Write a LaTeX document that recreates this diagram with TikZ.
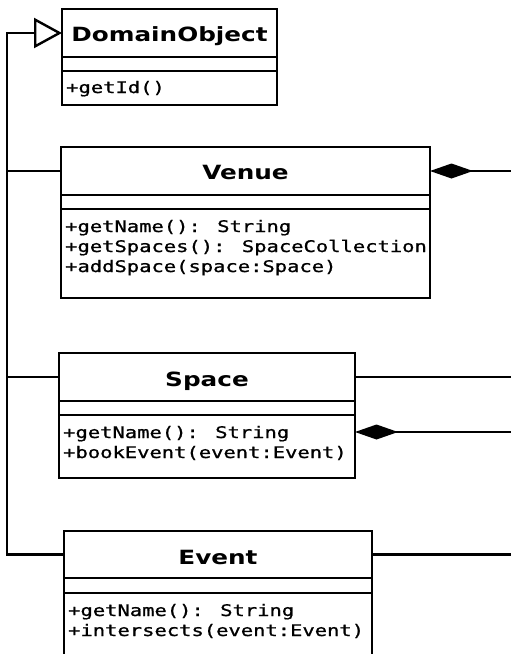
\documentclass[tikz,border=0pt]{standalone}
\usepackage{fontspec}
\newfontfamily\ttlfont{DejaVu Sans}[FakeStretch=1.26]
\newfontfamily\mthfont{DejaVu Sans Mono}[FakeStretch=1.28, FakeBold=1]
\usetikzlibrary{arrows.meta,calc}
\begin{document}
\begin{tikzpicture}[x=1pt,y=-1pt,
  part/.style={draw, line width=2.8pt, rectangle, inner sep=0pt, outer sep=0pt, anchor=north west},
  title/.style={anchor=base, inner sep=0pt, font=\ttlfont\bfseries\fontsize{19.6}{24}\selectfont},
  meth/.style={anchor=base west, inner sep=0pt, font=\mthfont\fontsize{16}{20}\selectfont},
  link/.style={line width=2.4pt},
  gen/.style={link, line join=miter, -{Triangle[open, length=28pt, width=30pt]}},
  comp/.style={link, -{Diamond[length=43pt, width=15pt]}},
]
\path[use as bounding box, fill=white] (0,0) rectangle (511,654);
\clip (0,0) rectangle (511,654);

% DomainObject
\node[part, minimum width=215, minimum height=48] (dobjH) at (62,9) {};
\node[part, minimum width=215, minimum height=14] (dobjA) at (62,57) {};
\node[part, minimum width=215, minimum height=34] (dobjM) at (62,71) {};
\node[title] (dobjT) at (169.5,41) {DomainObject};
\node[meth] (dobjM1) at (66,93) {+getId()};

% Venue
\node[part, minimum width=369, minimum height=48] (venueH) at (61,147) {};
\node[part, minimum width=369, minimum height=14] (venueA) at (61,195) {};
\node[part, minimum width=369, minimum height=89] (venueM) at (61,209) {};
\node[title] (venueT) at (245.5,179) {Venue};
\node[meth] (venueM1) at (65,232) {+getName(): String};
\node[meth] (venueM2) at (65,252) {+getSpaces(): SpaceCollection};
\node[meth] (venueM3) at (65,272) {+addSpace(space:Space)};

% Space
\node[part, minimum width=296, minimum height=48] (spaceH) at (59,353) {};
\node[part, minimum width=296, minimum height=14] (spaceA) at (59,401) {};
\node[part, minimum width=296, minimum height=63] (spaceM) at (59,415) {};
\node[title] (spaceT) at (207,386) {Space};
\node[meth] (spaceM1) at (63,438) {+getName(): String};
\node[meth] (spaceM2) at (63,458) {+bookEvent(event:Event)};

% Event
\node[part, minimum width=308, minimum height=47] (eventH) at (64,531) {};
\node[part, minimum width=308, minimum height=15] (eventA) at (64,578) {};
\node[part, minimum width=308, minimum height=63] (eventM) at (64,593) {};
\node[title] (eventT) at (218,564) {Event};
\node[meth] (eventM1) at (68,616) {+getName(): String};
\node[meth] (eventM2) at (68,636) {+intersects(event:Event)};

% connectors
\coordinate (trunktop) at (7,33);
\coordinate (edge) at (520,0);
\coordinate (spaceDia) at ($(spaceM.north east)+(0,17)$);

\draw[gen] (eventH.west) -| (trunktop) -- (dobjH.west);
\draw[link] (venueH.west) -- (venueH.west -| trunktop);
\draw[link] (spaceH.west) -- (spaceH.west -| trunktop);

\draw[comp] (venueH.east -| edge) -- (venueH.east);
\draw[link] (spaceH.east) -- (spaceH.east -| edge);
\draw[comp] (spaceDia -| edge) -- (spaceDia);
\draw[link] (eventH.east) -- (eventH.east -| edge);
\end{tikzpicture}
\end{document}
